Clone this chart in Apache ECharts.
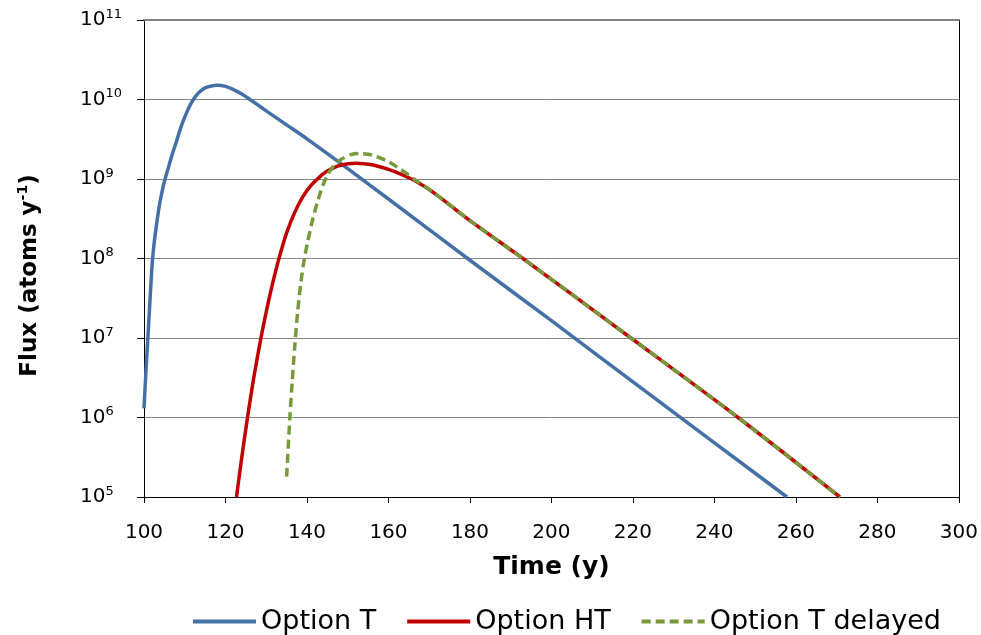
<!DOCTYPE html>
<html>
<head>
<meta charset="utf-8">
<script src="https://cdn.jsdelivr.net/npm/echarts@6/dist/echarts.min.js"></script>
<style>
	html, body { margin: 0; padding: 0; background: #fff; }
	#report { width: 981px; height: 635px; }
</style>
</head>
<body>
<div id="report"></div>
<script>
// values (time in years, flux in atoms per year)
var timeT = [100, 100.5, 101, 101.5, 102, 102.5, 103, 103.5, 104, 105, 106, 107, 108, 109, 110, 111, 112, 113, 114, 115, 116, 118, 120, 122, 124, 126, 128, 130, 135, 140, 150, 160, 180, 200, 220, 240, 257.8];
var fluxT = [1.3e6, 4e6, 1.12e7, 3.16e7, 8.5e7, 1.58e8, 2.5e8, 3.8e8, 5.4e8, 9.3e8, 1.4e9, 2.1e9, 3e9, 4.4e9, 6e9, 7.9e9, 9.8e9, 1.15e10, 1.29e10, 1.4e10, 1.46e10, 1.51e10, 1.46e10, 1.33e10, 1.17e10, 1e10, 8.5e9, 7.2e9, 4.8e9, 3.2e9, 1.35e9, 5.6e8, 9.5e7, 1.65e7, 2.8e6, 4.8e5, 1e5];

var timeHT = [122.7, 124, 125.4, 127, 128.7, 130.5, 132, 133.5, 135, 137, 139, 141, 143, 145, 148, 152, 156, 160, 163, 166.5, 171, 180, 193, 219.5, 245.8, 270.8];
var fluxHT = [1e5, 3.16e5, 1e6, 3.3e6, 1e7, 2.8e7, 6e7, 1.17e8, 2.1e8, 3.8e8, 6e8, 8.3e8, 1.05e9, 1.26e9, 1.48e9, 1.58e9, 1.51e9, 1.32e9, 1.15e9, 9.5e8, 6.8e8, 3e8, 1e8, 1e7, 1e6, 1e5];

var timeTD = [135, 135.8, 136.4, 137, 137.7, 138.5, 139.3, 140.2, 141.3, 142.5, 143.7, 145, 146.5, 148.5, 151, 153, 156, 159.5, 163, 166.5, 171, 180, 193, 219.5, 245.8, 270.8];
var fluxTD = [1.8e5, 1e6, 2.95e6, 7.9e6, 2.1e7, 5e7, 9.5e7, 1.66e8, 2.95e8, 5e8, 7.8e8, 1.12e9, 1.45e9, 1.78e9, 2.04e9, 2.09e9, 2e9, 1.7e9, 1.32e9, 9.8e8, 6.8e8, 3e8, 1e8, 1e7, 1e6, 1e5];

var seriesNames = ['Option T', 'Option HT', 'Option T delayed'];
var yTickExp = [5, 6, 7, 8, 9, 10, 11];

function pairs(xs, ys) {
	return xs.map(function(x, i) { return [x, ys[i]]; });
}

var font = 'DejaVu Sans';
var myChart = echarts.init(document.getElementById('report'));
var option = {
	animation: false,
	textStyle: { fontFamily: font },
	grid: { left: 144, right: 22, top: 20, bottom: 138 },
	legend: {
		data: seriesNames,
		left: 186,
		top: 603,
		itemWidth: 63,
		itemHeight: 14,
		itemGap: 29,
		itemStyle: { opacity: 0 },
		lineStyle: { width: 4 },
		textStyle: { fontFamily: font, fontSize: 27, color: '#000' }
	},
	xAxis: [{
		type: 'value',
		min: 100,
		max: 300,
		interval: 20,
		name: 'Time (y)',
		nameLocation: 'middle',
		nameGap: 58,
		nameTextStyle: { fontFamily: font, fontSize: 25, fontWeight: 'bold', color: '#000' },
		axisLine: { lineStyle: { color: '#000', width: 1 } },
		axisTick: { show: true, length: 6, lineStyle: { color: '#000' } },
		axisLabel: { fontFamily: font, fontSize: 20, color: '#000', margin: 26 },
		splitLine: { show: false }
	}, {
		type: 'value',
		min: 100,
		max: 300,
		interval: 20,
		position: 'top',
		axisLine: { show: true, lineStyle: { color: '#808080', width: 2 } },
		axisTick: { show: false },
		axisLabel: { show: false },
		splitLine: { show: false }
	}],
	yAxis: [{
		type: 'log',
		logBase: 10,
		min: 1e5,
		max: 1e11,
		splitNumber: 6,
		name: '{a|Flux (atoms y}{s|-1}{a|)}',
		nameLocation: 'middle',
		nameGap: 100,
		nameTextStyle: {
			padding: [0, 34, 0, 0],
			rich: {
				a: { fontFamily: font, fontSize: 23, fontWeight: 'bold', color: '#000', lineHeight: 28 },
				s: { fontFamily: font, fontSize: 14, fontWeight: 'bold', color: '#000', verticalAlign: 'top', lineHeight: 16 }
			}
		},
		axisLine: { show: true, lineStyle: { color: '#000', width: 1 } },
		axisTick: { show: true, length: 7, lineStyle: { color: '#000' } },
		axisLabel: {
			align: 'left',
			margin: 64,
			formatter: function(v) {
				var e = yTickExp[Math.round(Math.log10(v)) - yTickExp[0]];
				return '{b|10}{s|' + e + '}';
			},
			rich: {
				b: { fontFamily: font, fontSize: 20, color: '#000', lineHeight: 24 },
				s: { fontFamily: font, fontSize: 13, color: '#000', verticalAlign: 'top', lineHeight: 14 }
			}
		},
		splitLine: { show: true, lineStyle: { color: '#868686', width: 1 } }
	}, {
		type: 'log',
		logBase: 10,
		min: 1e5,
		max: 1e11,
		position: 'right',
		axisLine: { show: true, lineStyle: { color: '#000', width: 1 } },
		axisTick: { show: false },
		axisLabel: { show: false },
		splitLine: { show: false }
	}],
	series: [{
		name: seriesNames[0],
		type: 'line',
		data: pairs(timeT, fluxT),
		smooth: 0.25,
		symbol: 'none',
		lineStyle: { color: '#4470a5', width: 3.5 },
		itemStyle: { color: '#4470a5' }
	}, {
		name: seriesNames[1],
		type: 'line',
		data: pairs(timeHT, fluxHT),
		smooth: 0.25,
		symbol: 'none',
		lineStyle: { color: '#c00000', width: 3.5 },
		itemStyle: { color: '#c00000' }
	}, {
		name: seriesNames[2],
		type: 'line',
		data: pairs(timeTD, fluxTD),
		smooth: 0.25,
		symbol: 'none',
		lineStyle: { color: '#77993b', width: 3.5, type: [9, 5] },
		itemStyle: { color: '#77993b' }
	}]
};
myChart.setOption(option);
</script>
</body>
</html>
